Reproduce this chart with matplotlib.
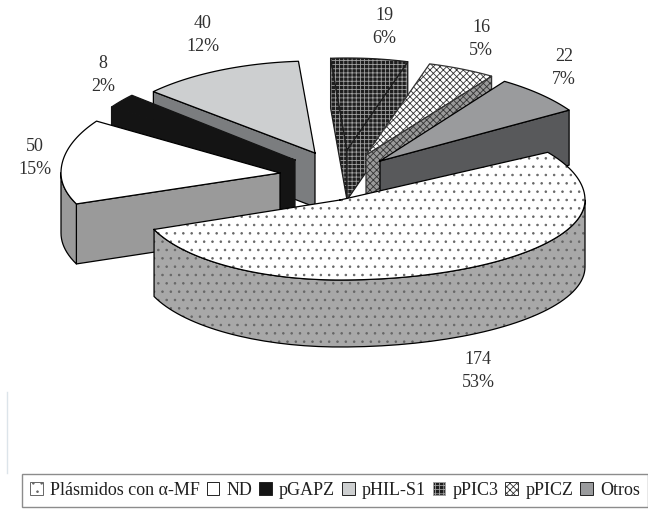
import numpy as np
import matplotlib
matplotlib.use("Agg")
import matplotlib.pyplot as plt
from matplotlib.patches import Patch

plt.rcParams['font.family'] = ['Liberation Serif', 'DejaVu Serif']
plt.rcParams['hatch.linewidth'] = 0.6

categories = ['Plásmidos con α-MF', 'ND', 'pGAPZ', 'pHIL-S1', 'pPIC3', 'pPICZ', 'Otros']
values = [174, 50, 8, 40, 19, 16, 22]

# Exploded-pie layout in pixel space: apex x/y, left/right radius, upper/lower radius, wall height
layout = {
    'Plásmidos con α-MF': (340, 200, 200, 245, 90, 80, 67),
    'ND':      (280, 173, 219, 219, 95, 84, 60),
    'pGAPZ':   (295, 160, 219, 219, 97, 97, 55),
    'pHIL-S1': (315, 153, 217, 217, 92, 92, 54),
    'pPIC3':   (347, 150, 215, 215, 92, 92, 50),
    'pPICZ':   (366, 155, 225, 225, 95, 95, 42),
    'Otros':   (380, 161, 223, 223, 96, 96, 55),
}
# top fill, wall fill, hatch colour, hatch, outline colour
styles = {
    'Plásmidos con α-MF': ('white', '#a8a8a8', '#666666', '..', 'black'),
    'ND':      ('white', '#9a9a9a', 'black', None, 'black'),
    'pGAPZ':   ('#141414', '#141414', 'black', None, '#141414'),
    'pHIL-S1': ('#cdcfd0', '#7b7d7f', 'black', None, 'black'),
    'pPIC3':   ('#1e1e1e', '#1e1e1e', '#a0a0a0', '++++', '#1e1e1e'),
    'pPICZ':   ('white', '#9a9a9a', '#333333', 'xxxxx', '#333333'),
    'Otros':   ('#9a9b9d', '#58595b', 'black', None, 'black'),
}
# Data-label centres in pixels
label_pos = [(478, 371), (35, 158), (103, 75), (203, 35), (384, 27), (481, 39), (564, 68)]
draw_order = ['pHIL-S1', 'pGAPZ', 'ND', 'pPIC3', 'pPICZ', 'Otros', 'Plásmidos con α-MF']
start_angle = 32.0

fig = plt.figure(figsize=(6.48, 5.18), dpi=100)
ax = fig.add_axes([0, 0, 1, 1])
ax.set_xlim(0, 648)
ax.set_ylim(518, 0)
ax.axis('off')


def rim(geom, t):
    px, py, al, ar, bu, bd = geom[:6]
    c, s = np.cos(np.radians(t)), np.sin(np.radians(t))
    return px + np.where(c < 0, al, ar) * c, py - np.where(s > 0, bu, bd) * s


def face(xs, ys, top_col, style, z):
    if style[3]:
        ax.fill(xs, ys, facecolor=top_col, edgecolor=style[2], hatch=style[3], lw=0, zorder=z)
    else:
        ax.fill(xs, ys, facecolor=top_col, lw=0, zorder=z)
    ax.plot(np.r_[xs, xs[0]], np.r_[ys, ys[0]], color=style[4], lw=0.9, zorder=z + 0.1)


fractions = np.array(values) / sum(values)
sweeps = fractions * 360
ends = start_angle - np.cumsum(sweeps)
starts = ends + sweeps
spans = {c: (s, e) for c, s, e in zip(categories, starts, ends)}

z = 1
for name in draw_order:
    geom, style = layout[name], styles[name]
    t0, t1 = spans[name]
    px, py, depth = geom[0], geom[1], geom[6]
    # radial walls facing the viewer
    for t, visible in ((t0, np.cos(np.radians(t0)) < 0), (t1, np.cos(np.radians(t1)) > 0)):
        if visible:
            rx, ry = rim(geom, t)
            face(np.array([px, rx, rx, px]), np.array([py, ry, ry + depth, py + depth]),
                 style[1], style, z)
            z += 1
    # outer curved wall on the front half of the ellipse
    k = np.floor(t1 / 360)
    lo, hi = max(t1, 360 * k + 180), min(t0, 360 * k + 360)
    if lo >= hi:
        lo, hi = max(t1, 360 * k - 180), min(t0, 360 * k)
    if lo < hi:
        ts = np.linspace(lo, hi, 80)
        rx, ry = rim(geom, ts)
        face(np.r_[rx, rx[::-1]], np.r_[ry, ry[::-1] + depth], style[1], style, z)
        z += 1
    # top face of the slice
    ts = np.linspace(t0, t1, 120)
    rx, ry = rim(geom, ts)
    face(np.r_[px, rx], np.r_[py, ry], style[0], style, z)
    z += 1

for name, val, frac, (lx, ly) in zip(categories, values, fractions, label_pos):
    ax.text(lx, ly, f'{val}\n{round(frac * 100)}%', ha='center', va='center',
            fontsize=13, color='#303030', linespacing=1.5, zorder=100)

# Thin rule left of the legend
ax.plot([7, 7], [392, 473], color='#dce4ea', lw=1, zorder=0)

handles = []
for name in categories:
    top, _, hc, h, _ = styles[name]
    handles.append(Patch(facecolor=top, edgecolor=hc if h else '#222222', hatch=h, lw=0.7))
leg = fig.legend(handles, categories, ncol=len(categories), loc='lower left',
                 bbox_to_anchor=(22 / 648, 1 - 507 / 518, 626 / 648, 34 / 518),
                 mode='expand', fontsize=13, frameon=True, fancybox=False,
                 edgecolor='#707070', handlelength=0.7, handleheight=0.7,
                 handletextpad=0.4, columnspacing=0.3, borderaxespad=0,
                 borderpad=0.45, labelcolor='#202020')
leg.get_frame().set_linewidth(1.0)

fig.savefig('out.png', dpi=100)
